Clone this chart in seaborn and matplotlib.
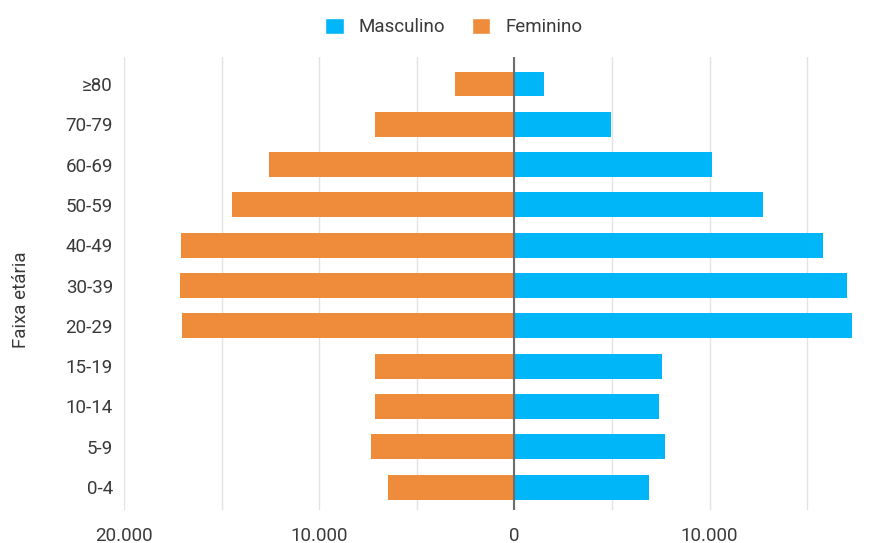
import pandas as pd
import matplotlib
matplotlib.use('Agg')
import matplotlib.pyplot as plt
from matplotlib.ticker import MultipleLocator, FuncFormatter
from matplotlib.patches import Patch
import seaborn as sns

# Population by age group
faixas = ['≥80', '70-79', '60-69', '50-59', '40-49', '30-39', '20-29',
          '15-19', '10-14', '5-9', '0-4']
masculino = [1520, 4950, 10100, 12750, 15830, 17060, 17300, 7570, 7390, 7740, 6920]
feminino = [3050, 7120, 12590, 14490, 17100, 17150, 17020, 7120, 7120, 7360, 6490]

cor_masc = '#00B5F8'
cor_fem = '#EF8C3B'
cor_texto = '#3A3A3A'

df = pd.concat([
    pd.DataFrame({'faixa': faixas, 'valor': masculino, 'sexo': 'Masculino'}),
    pd.DataFrame({'faixa': faixas, 'valor': [-v for v in feminino], 'sexo': 'Feminino'}),
])

sns.set_style('white')
plt.rcParams['font.family'] = ['Roboto', 'DejaVu Sans']
plt.rcParams['font.size'] = 13.5

fig = plt.figure(figsize=(8.95, 5.43), dpi=100)
ax = fig.add_axes([124 / 895, 1 - 510 / 543, (856 - 124) / 895, (510 - 57) / 543])

sns.barplot(data=df, x='valor', y='faixa', hue='sexo', order=faixas,
            palette={'Masculino': cor_masc, 'Feminino': cor_fem},
            dodge=False, orient='h', width=0.62, ax=ax, legend=False,
            edgecolor='none', saturation=1)

ax.set_xlim(-20000, 17500)
ax.set_ylim(10.57, -0.67)
ax.xaxis.set_major_locator(MultipleLocator(10000))
ax.xaxis.set_minor_locator(MultipleLocator(5000))
ax.xaxis.set_major_formatter(FuncFormatter(lambda v, p: f'{abs(int(v)):,}'.replace(',', '.')))
ax.grid(axis='x', which='both', color='#E3E3E3', linewidth=1)
ax.set_axisbelow(True)
ax.axvline(0, color='#6E6E6E', linewidth=1.5, zorder=3)

for s in ax.spines.values():
    s.set_visible(False)
ax.tick_params(axis='both', which='both', length=0, colors=cor_texto, labelsize=13.5)
ax.tick_params(axis='x', pad=12)
ax.tick_params(axis='y', pad=8)

ax.set_xlabel('')
ax.set_ylabel('Faixa etária', color=cor_texto, fontsize=13.5)
ax.yaxis.set_label_coords(-0.129, 0.465)

handles = [Patch(facecolor=cor_masc, label='Masculino'),
           Patch(facecolor=cor_fem, label='Feminino')]
fig.legend(handles=handles, loc='center', bbox_to_anchor=(0.507, 1 - 27 / 543),
           ncol=2, frameon=False, handlelength=1.0, handleheight=1.0,
           handletextpad=0.8, columnspacing=1.4, labelcolor=cor_texto,
           fontsize=13.5)

fig.savefig('out.png', dpi=100)
